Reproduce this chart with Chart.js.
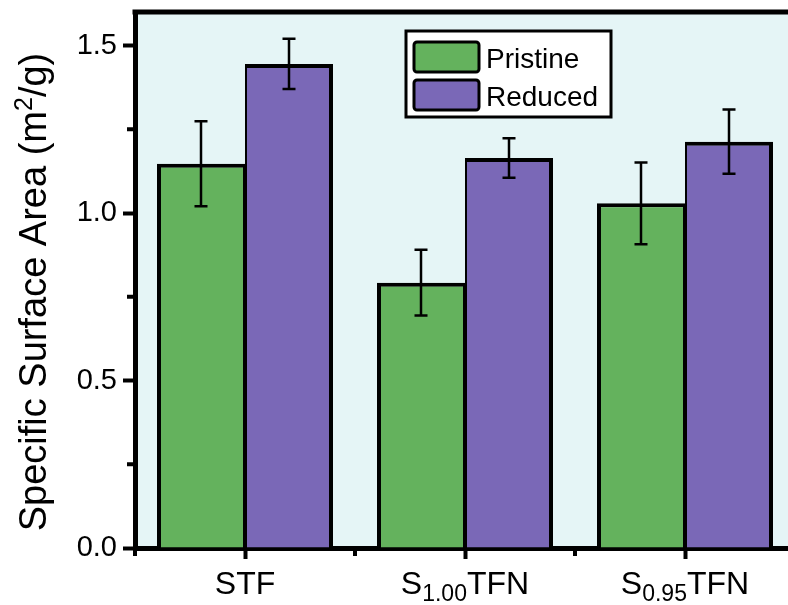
<!DOCTYPE html>
<html lang="en">
<head>
<meta charset="UTF-8">
<title>Specific surface area</title>
<script src="https://cdn.jsdelivr.net/npm/chart.js@4.4.0/dist/chart.umd.min.js"></script>
<style>
  html, body { margin: 0; padding: 0; background: #fff; overflow: hidden; }
  #wrap { width: 800px; height: 605px; }
</style>
</head>
<body>
<div id="wrap"><canvas id="chart" width="800" height="605"></canvas></div>
<script>
const categories = ['STF', 'S1.00TFN', 'S0.95TFN'];
// label pieces, odd entries are subscripts
const tickParts = [['STF'], ['S', '1.00', 'TFN'], ['S', '0.95', 'TFN']];
const seriesNames = ['Pristine', 'Reduced'];
const pristine = [1.147, 0.792, 1.029];
const pristineErr = [0.127, 0.098, 0.122];
const reduced = [1.445, 1.164, 1.213];
const reducedErr = [0.075, 0.059, 0.096];
const yTicks = [0, 0.5, 1.0, 1.5];
const yMinorTicks = [0.25, 0.75, 1.25];

const FONT = "'Liberation Sans', Arial, sans-serif";
const green = '#64b25d';
const purple = '#7a68b7';
const plotBg = '#e5f5f6';
const errs = [pristineErr, reducedErr];

function drawParts(ctx, parts, cx, base, mainSize, subSize, shift) {
  let w = 0;
  parts.forEach((p, k) => {
    ctx.font = (k % 2 ? subSize : mainSize) + 'px ' + FONT;
    w += ctx.measureText(p).width;
  });
  let x = cx - w / 2;
  parts.forEach((p, k) => {
    ctx.font = (k % 2 ? subSize : mainSize) + 'px ' + FONT;
    ctx.fillText(p, x, base + (k % 2 ? shift : 0));
    x += ctx.measureText(p).width;
  });
}

const extras = {
  id: 'extras',
  beforeDraw(chart) {
    const { ctx, chartArea: a } = chart;
    ctx.save();
    ctx.fillStyle = plotBg;
    ctx.fillRect(a.left, a.top, a.right - a.left, a.bottom - a.top);
    ctx.restore();
  },
  afterDatasetsDraw(chart) {
    const ctx = chart.ctx, y = chart.scales.y;
    ctx.save();
    ctx.strokeStyle = '#000';
    ctx.lineWidth = 2.5;
    chart.data.datasets.forEach((ds, i) => {
      chart.getDatasetMeta(i).data.forEach((bar, j) => {
        const v = ds.data[j], e = errs[i][j];
        const t = y.getPixelForValue(v + e), b = y.getPixelForValue(v - e);
        ctx.beginPath();
        ctx.moveTo(bar.x, t); ctx.lineTo(bar.x, b);
        ctx.moveTo(bar.x - 6.5, t); ctx.lineTo(bar.x + 6.5, t);
        ctx.moveTo(bar.x - 6.5, b); ctx.lineTo(bar.x + 6.5, b);
        ctx.stroke();
      });
    });
    ctx.restore();
  },
  afterDraw(chart) {
    const { ctx, chartArea: a } = chart;
    const x = chart.scales.x, y = chart.scales.y;
    ctx.save();
    ctx.strokeStyle = '#000';
    ctx.fillStyle = '#000';

    // top and right frame
    ctx.lineWidth = 5;
    ctx.beginPath();
    ctx.moveTo(a.left - 2.5, a.top); ctx.lineTo(a.right, a.top); ctx.lineTo(a.right, a.bottom);
    ctx.stroke();

    // minor ticks
    ctx.lineWidth = 4;
    ctx.beginPath();
    yMinorTicks.forEach(v => {
      const py = y.getPixelForValue(v);
      ctx.moveTo(a.left - 8, py); ctx.lineTo(a.left, py);
    });
    for (let i = 0; i <= categories.length; i++) {
      const px = x.getPixelForValue(i - 0.5);
      ctx.moveTo(px, a.bottom); ctx.lineTo(px, a.bottom + 8);
    }
    ctx.stroke();

    // x tick labels
    ctx.textAlign = 'left';
    ctx.textBaseline = 'alphabetic';
    tickParts.forEach((parts, i) => {
      drawParts(ctx, parts, x.getPixelForValue(i), 594, 32, 23, 7);
    });

    // y title
    ctx.save();
    ctx.translate(46, 292);
    ctx.rotate(-Math.PI / 2);
    const tp = ['Specific Surface Area (m', '2', '/g)'];
    let w = 0;
    tp.forEach((p, k) => { ctx.font = (k === 1 ? 25 : 38) + 'px ' + FONT; w += ctx.measureText(p).width; });
    let tx = -w / 2;
    tp.forEach((p, k) => {
      ctx.font = (k === 1 ? 25 : 38) + 'px ' + FONT;
      ctx.fillText(p, tx, k === 1 ? -14 : 0);
      tx += ctx.measureText(p).width;
    });
    ctx.restore();

    // legend
    ctx.lineWidth = 3;
    ctx.fillStyle = '#fff';
    ctx.fillRect(406, 31, 205, 86);
    ctx.strokeRect(406, 31, 205, 86);
    chart.data.datasets.forEach((ds, i) => {
      const sy = 42 + i * 38;
      ctx.fillStyle = ds.backgroundColor;
      ctx.beginPath();
      ctx.roundRect(414, sy, 65, 30, 3);
      ctx.fill();
      ctx.stroke();
      ctx.fillStyle = '#000';
      ctx.font = '28px ' + FONT;
      ctx.fillText(ds.label, 486, sy + 26);
    });
    ctx.restore();
  }
};

new Chart(document.getElementById('chart'), {
  type: 'bar',
  data: {
    labels: categories,
    datasets: [
      { label: seriesNames[0], data: pristine, backgroundColor: green, borderColor: '#000',
        borderWidth: { top: 4, left: 4, right: 2, bottom: 0 }, borderSkipped: false },
      { label: seriesNames[1], data: reduced, backgroundColor: purple, borderColor: '#000',
        borderWidth: { top: 4, left: 2, right: 4, bottom: 0 }, borderSkipped: false }
    ]
  },
  options: {
    responsive: false,
    animation: false,
    datasets: { bar: { categoryPercentage: 0.8, barPercentage: 1.0 } },
    layout: { padding: { top: 12, right: 5, left: 0, bottom: 0 } },
    plugins: { legend: { display: false }, tooltip: { enabled: false } },
    scales: {
      x: {
        offset: true,
        z: 1,
        afterFit: s => { s.height = 57; s.paddingLeft = 0; s.paddingRight = 0; },
        ticks: { display: false },
        grid: { drawOnChartArea: false, offset: false, tickLength: 11, tickWidth: 4, tickColor: '#000' },
        border: { display: true, color: '#000', width: 5 }
      },
      y: {
        min: 0,
        max: 1.6,
        z: 1,
        afterFit: s => { s.width = 135; s.paddingTop = 0; s.paddingBottom = 0; },
        afterBuildTicks: s => { s.ticks = yTicks.map(v => ({ value: v })); },
        ticks: { font: { family: FONT, size: 29 }, color: '#000', padding: 6, callback: v => v.toFixed(1) },
        grid: { drawOnChartArea: false, tickLength: 12, tickWidth: 4, tickColor: '#000' },
        border: { display: true, color: '#000', width: 5 }
      }
    }
  },
  plugins: [extras]
});
</script>
</body>
</html>
